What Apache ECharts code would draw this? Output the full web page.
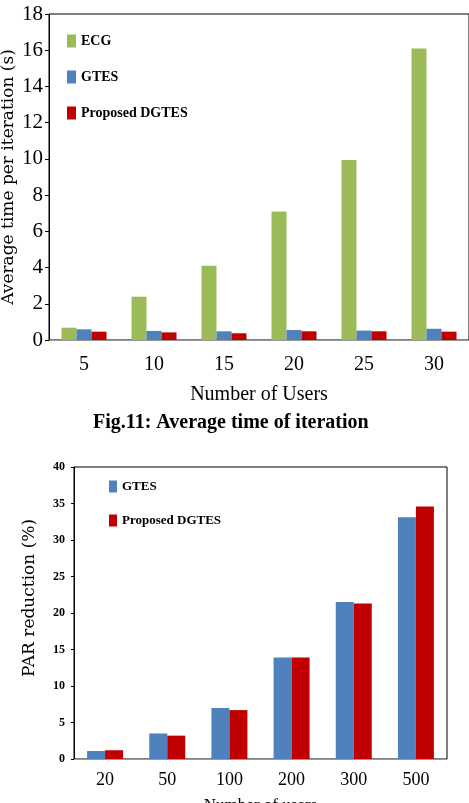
<!DOCTYPE html>
<html>
<head>
<meta charset="utf-8">
<script src="https://cdn.jsdelivr.net/npm/echarts@6/dist/echarts.min.js"></script>
<style>
  html, body { margin: 0; padding: 0; background: #fff; }
  #chart-container { position: absolute; left: 0; top: 0; width: 469px; height: 440px; }
  #chart-container-2 { position: absolute; left: 0; top: 440px; width: 469px; height: 363px; }
</style>
</head>
<body>
<div id="chart-container"></div>
<div id="chart-container-2"></div>
<script>
// Fig.11 data
var users1 = ["5", "10", "15", "20", "25", "30"];
var ecg1 = [0.68, 2.39, 4.1, 7.1, 9.94, 16.1];
var gtes1 = [0.59, 0.5, 0.48, 0.55, 0.52, 0.62];
var dgtes1 = [0.46, 0.42, 0.37, 0.48, 0.48, 0.46];

// PAR reduction data
var users2 = ["20", "50", "100", "200", "300", "500"];
var gtes2 = [1.1, 3.5, 7.0, 13.9, 21.5, 33.1];
var dgtes2 = [1.2, 3.2, 6.7, 13.9, 21.3, 34.6];

var serif = "Liberation Serif";
var green = "#9BBB59";
var blue = "#4F81BD";
var red = "#C00000";

// chart 1
var dom1 = document.getElementById("chart-container");
var myChart1 = echarts.init(dom1, null, { renderer: "canvas" });

var option1 = {
  animation: false,
  title: {
    text: "Fig.11: Average time of iteration",
    left: 93,
    top: 413,
    padding: 0,
    textStyle: { fontFamily: serif, fontSize: 20, fontWeight: "bold", color: "#000" },
  },
  legend: {
    orient: "vertical",
    left: 67,
    top: 34,
    padding: 0,
    itemWidth: 9,
    itemHeight: 13,
    itemGap: 22,
    icon: "rect",
    textStyle: { fontFamily: serif, fontSize: 14, fontWeight: "bold", color: "#000" },
    data: ["ECG", "GTES", "Proposed DGTES"],
  },
  grid: {
    left: 49,
    top: 14,
    width: 420,
    height: 326,
    outerBoundsMode: "none",
    containLabel: false,
    show: true,
    borderColor: "#000",
    borderWidth: 1,
  },
  xAxis: {
    type: "category",
    data: users1,
    name: "Number of Users",
    nameLocation: "middle",
    nameGap: 45,
    nameTextStyle: { fontFamily: serif, fontSize: 20, color: "#000" },
    axisLine: { lineStyle: { color: "#999" } },
    axisTick: { length: 5, lineStyle: { color: "#999" } },
    axisLabel: { fontFamily: serif, fontSize: 20, color: "#000", margin: 15 },
  },
  yAxis: {
    type: "value",
    min: 0,
    max: 18,
    interval: 2,
    name: "Average time per iteration (s)",
    nameLocation: "middle",
    nameGap: 32,
    nameMoveOverlap: false,
    nameTextStyle: { fontFamily: "DejaVu Serif", fontSize: 17, color: "#000" },
    axisLine: { show: true, lineStyle: { color: "#000" } },
    axisTick: { show: true, length: 4, lineStyle: { color: "#000" } },
    splitLine: { show: false },
    axisLabel: { fontFamily: serif, fontSize: 21, color: "#000", margin: 6 },
  },
  series: [
    { name: "ECG", type: "bar", data: ecg1, barWidth: 15, barGap: "0%", itemStyle: { color: green } },
    { name: "GTES", type: "bar", data: gtes1, barWidth: 15, barGap: "0%", itemStyle: { color: blue } },
    { name: "Proposed DGTES", type: "bar", data: dgtes1, barWidth: 15, barGap: "0%", itemStyle: { color: red } },
  ],
};

if (option1 && typeof option1 === "object") {
  myChart1.setOption(option1);
}
window.addEventListener("resize", myChart1.resize);

// chart 2
var dom2 = document.getElementById("chart-container-2");
var myChart2 = echarts.init(dom2, null, { renderer: "canvas" });

var option2 = {
  animation: false,
  legend: {
    orient: "vertical",
    left: 109,
    top: 40,
    padding: 0,
    itemWidth: 8,
    itemHeight: 12,
    itemGap: 21,
    icon: "rect",
    textStyle: { fontFamily: serif, fontSize: 13, fontWeight: "bold", color: "#000" },
    data: ["GTES", "Proposed DGTES"],
  },
  grid: {
    left: 74,
    top: 27,
    width: 373,
    height: 292,
    outerBoundsMode: "none",
    containLabel: false,
    show: true,
    borderColor: "#000",
    borderWidth: 1,
  },
  xAxis: {
    type: "category",
    data: users2,
    name: "Number of users",
    nameLocation: "middle",
    nameGap: 38,
    nameTextStyle: { fontFamily: serif, fontSize: 17, color: "#000" },
    axisLine: { lineStyle: { color: "#999" } },
    axisTick: { length: 5, lineStyle: { color: "#999" } },
    axisLabel: { fontFamily: serif, fontSize: 18, color: "#000", margin: 12 },
  },
  yAxis: {
    type: "value",
    min: 0,
    max: 40,
    interval: 5,
    name: "PAR reduction (%)",
    nameLocation: "middle",
    nameGap: 36,
    nameTextStyle: { fontFamily: "DejaVu Serif", fontSize: 17, color: "#000", padding: [0, 0, 0, 30] },
    axisLine: { show: true, lineStyle: { color: "#000" } },
    axisTick: { show: true, length: 3, lineStyle: { color: "#000" } },
    splitLine: { show: false },
    axisLabel: { fontFamily: serif, fontSize: 12, fontWeight: "bold", color: "#000", margin: 9 },
  },
  series: [
    { name: "GTES", type: "bar", data: gtes2, barWidth: 18, barGap: "0%", itemStyle: { color: blue } },
    { name: "Proposed DGTES", type: "bar", data: dgtes2, barWidth: 18, barGap: "0%", itemStyle: { color: red } },
  ],
};

if (option2 && typeof option2 === "object") {
  myChart2.setOption(option2);
}
window.addEventListener("resize", myChart2.resize);
</script>
</body>
</html>
